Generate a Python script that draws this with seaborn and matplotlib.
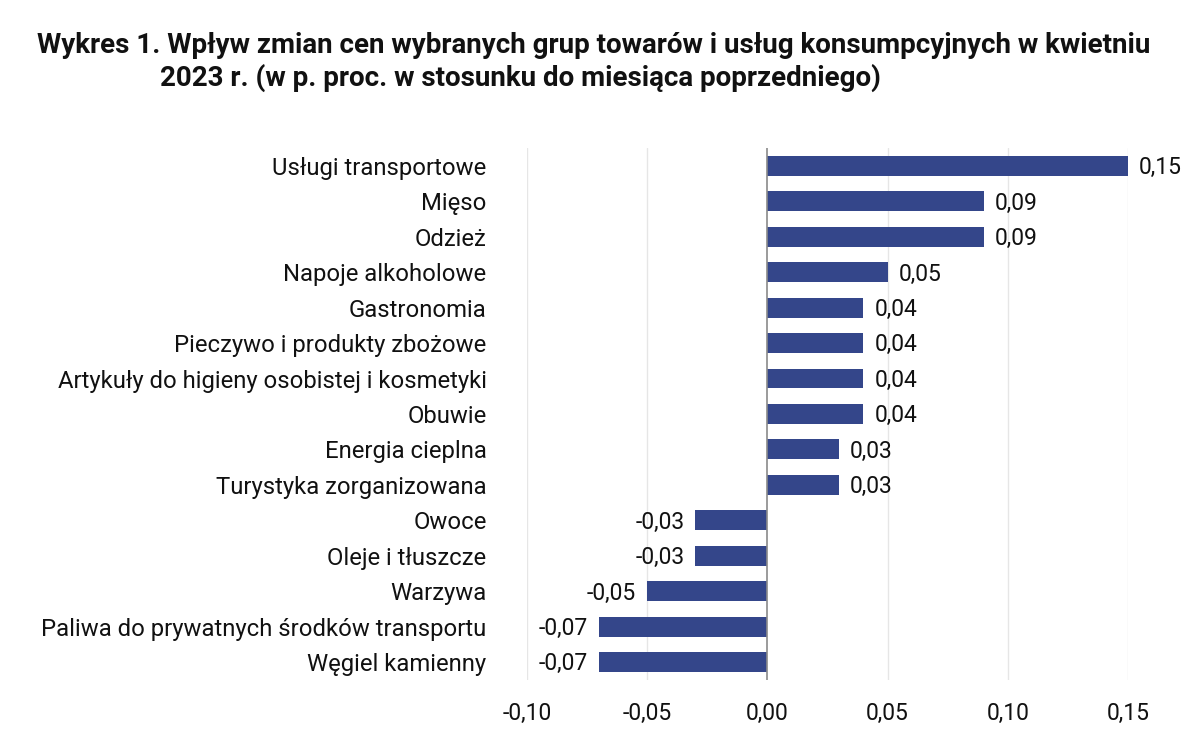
import matplotlib.pyplot as plt
import seaborn as sns
import pandas as pd

categories = [
    "Usługi transportowe",
    "Mięso",
    "Odzież",
    "Napoje alkoholowe",
    "Gastronomia",
    "Pieczywo i produkty zbożowe",
    "Artykuły do higieny osobistej i kosmetyki",
    "Obuwie",
    "Energia cieplna",
    "Turystyka zorganizowana",
    "Owoce",
    "Oleje i tłuszcze",
    "Warzywa",
    "Paliwa do prywatnych środków transportu",
    "Węgiel kamienny",
]
values = [0.15, 0.09, 0.09, 0.05, 0.04, 0.04, 0.04, 0.04, 0.03, 0.03,
          -0.03, -0.03, -0.05, -0.07, -0.07]
xticks = [-0.10, -0.05, 0.00, 0.05, 0.10, 0.15]

df = pd.DataFrame({"grupa": categories, "wplyw": values})

sns.set_theme(style="white")
plt.rcParams["font.family"] = ["Roboto", "DejaVu Sans"]
plt.rcParams["text.color"] = "#111111"
plt.rcParams["xtick.color"] = "#111111"
plt.rcParams["ytick.color"] = "#111111"

fig = plt.figure(figsize=(12, 7.52), dpi=100)
ax = fig.add_axes([0.439, 0.096, 0.501, 0.707])

sns.barplot(data=df, x="wplyw", y="grupa", orient="h", color="#34468a",
            saturation=1, width=0.56, edgecolor="none", ax=ax)

ax.set_xlim(-0.10, 0.15)
ax.set_ylim(14.5, -0.5)
ax.set_xticks(xticks)
ax.set_xticklabels([f"{t:.2f}".replace(".", ",") for t in xticks], fontsize=16.5)
ax.tick_params(axis="y", labelsize=17.2, length=0, pad=29)
ax.tick_params(axis="x", length=0, pad=16)
ax.set_xlabel("")
ax.set_ylabel("")
for s in ax.spines.values():
    s.set_visible(False)

for t in xticks:
    if t == 0:
        ax.axvline(t, color="#8a8a8a", lw=1.2, zorder=3)
    else:
        ax.axvline(t, color="#e6e6e6", lw=1, zorder=0)

for i, v in enumerate(values):
    lab = f"{v:.2f}".replace(".", ",")
    if v >= 0:
        ax.text(v + 0.0045, i + 0.05, lab, va="center", ha="left", fontsize=16.5)
    else:
        ax.text(v - 0.0045, i + 0.05, lab, va="center", ha="right", fontsize=16.5)

fig.text(0.031, 0.94, "Wykres 1. Wpływ zmian cen wybranych grup towarów i usług konsumpcyjnych w kwietniu",
         fontsize=20, fontweight="bold", ha="left", va="center")
fig.text(0.133, 0.896, "2023 r. (w p. proc. w stosunku do miesiąca poprzedniego)",
         fontsize=20, fontweight="bold", ha="left", va="center")

fig.savefig("out.png", dpi=100)
